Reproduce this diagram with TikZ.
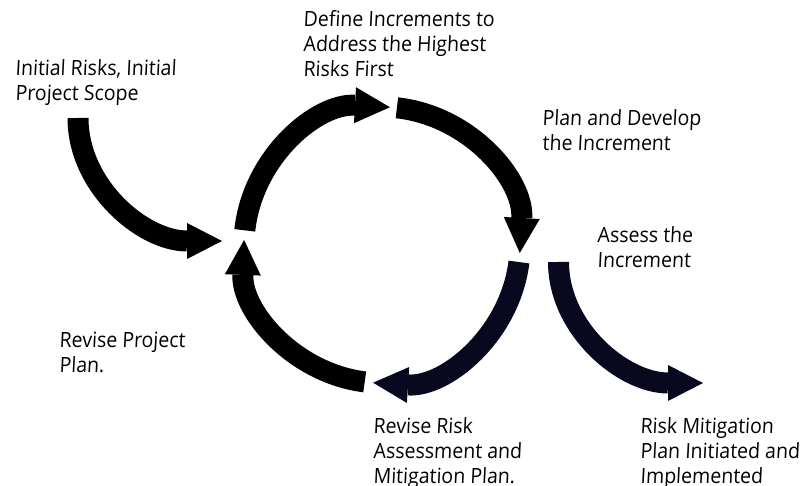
\documentclass[tikz,border=0pt]{standalone}
\usepackage{fontspec}
\setmainfont{Open Sans}[FakeSlant=0.05, FakeStretch=0.93]
\usetikzlibrary{arrows.meta,calc}
\definecolor{inkblue}{RGB}{8,8,30}
\def\cyclearrow[#1](#2:#3){\draw[fatarrow,#1] ($(hub)+(#2:138)$) arc (#2:#3:138);}
\tikzset{
	fatarrow/.style={line width=10.5pt, -{Triangle[length=17.5pt, width=18pt, line width=0pt]}},
	blurb/.style={anchor=north west, inner sep=0pt, align=left, font=\fontsize{10.5}{12.5}\selectfont},
}

\begin{document}
\begin{tikzpicture}[x=0.5pt, y=0.5pt]
			%%%%% START %%%%%
			\useasboundingbox (0, 0) rectangle (807, 486);
			
			\coordinate (hub) at (382, 241);
			
			% way in
			\draw[fatarrow] (78, 368) arc (180:270:144 and 123);
			
			% the cycle
			\cyclearrow[black](173.9:86.7);
			\cyclearrow[black](83.8:-3.3);
			\cyclearrow[inkblue](-7.1:-93.7);
			\cyclearrow[black](-97.2:-182.1);
			
			% way out
			\draw[fatarrow, inkblue] (558.5, 224) arc (180:270:144.5 and 121);
			
			\node[blurb] (initrisks) at (15, 427) {Initial Risks, Initial\\Project Scope};
			\node[blurb] (defineinc) at (303, 476) {Define Increments to\\Address the Highest\\Risks First};
			\node[blurb] (plandev) at (542, 377) {Plan and Develop\\the Increment};
			\node[blurb] (assess) at (597, 260) {Assess the\\Increment};
			\node[blurb] (reviseplan) at (59, 154) {Revise Project\\Plan.};
			\node[blurb] (reviserisk) at (373, 69) {Revise Risk\\Assessment and\\Mitigation Plan.};
			\node[blurb] (mitigation) at (640, 69) {Risk Mitigation\\Plan Initiated and\\Implemented};
			
			%%%%% END %%%%%
		\end{tikzpicture}
\end{document}
